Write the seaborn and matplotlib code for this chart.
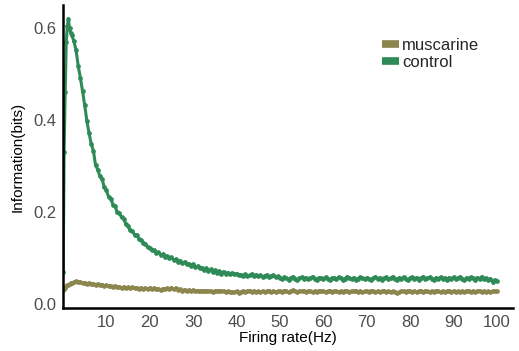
import numpy as np
import pandas as pd
import matplotlib
matplotlib.use("Agg")
import matplotlib.pyplot as plt
import seaborn as sns

# ---- data ----
x_early = [0.05, 0.25, 0.5, 0.75, 1.0, 1.25, 1.5, 1.75, 2.0]
x_rest = list(np.arange(2.5, 100.001, 0.5))
rate = x_early + x_rest

control = [0.07, 0.33, 0.46, 0.57, 0.605, 0.62, 0.60, 0.59, 0.585,
    0.572, 0.552, 0.518, 0.492, 0.463, 0.432, 0.398, 0.372, 0.348, 0.333,
    0.302, 0.292, 0.278, 0.272, 0.254, 0.247, 0.233, 0.229, 0.216, 0.212,
    0.199, 0.197, 0.188, 0.185, 0.173, 0.169, 0.160, 0.158, 0.150, 0.149,
    0.141, 0.139, 0.133, 0.131, 0.123, 0.121, 0.117, 0.117, 0.111, 0.112,
    0.107, 0.108, 0.103, 0.104, 0.099, 0.101, 0.096, 0.097, 0.092, 0.094,
    0.088, 0.091, 0.086, 0.087, 0.083, 0.086, 0.080, 0.082, 0.077, 0.079,
    0.074, 0.077, 0.072, 0.075, 0.070, 0.073, 0.068, 0.071, 0.066, 0.070,
    0.065, 0.068, 0.064, 0.067,
    0.064, 0.066, 0.062, 0.063, 0.061, 0.064, 0.060, 0.062, 0.065, 0.061,
    0.063, 0.060, 0.062, 0.059, 0.061, 0.063, 0.058, 0.060, 0.062, 0.058, 0.060,
    0.057, 0.054, 0.058, 0.056, 0.053, 0.057, 0.059, 0.055, 0.052, 0.056,
    0.058, 0.055, 0.057, 0.054, 0.056, 0.059, 0.055, 0.053, 0.057, 0.056,
    0.054, 0.058, 0.055, 0.052, 0.056, 0.057, 0.054, 0.058, 0.056, 0.053,
    0.055, 0.059, 0.056, 0.054, 0.057, 0.053, 0.055, 0.058, 0.056, 0.054,
    0.057, 0.055, 0.052, 0.056, 0.059, 0.055, 0.057, 0.053, 0.056, 0.058,
    0.054, 0.056, 0.059, 0.055, 0.053, 0.057, 0.055, 0.058, 0.054, 0.052,
    0.056, 0.058, 0.055, 0.057, 0.053, 0.056, 0.059, 0.054, 0.056, 0.058,
    0.055, 0.053, 0.057, 0.055, 0.058, 0.054, 0.056, 0.053, 0.057, 0.055,
    0.058, 0.054, 0.056, 0.059, 0.055, 0.052, 0.057, 0.054, 0.058, 0.056,
    0.053, 0.057, 0.055, 0.059, 0.054, 0.056, 0.051, 0.055, 0.048, 0.052,
    0.050]

muscarine = [0.030, 0.032, 0.035, 0.038, 0.040, 0.042, 0.043, 0.045, 0.046,
    0.047, 0.049, 0.047, 0.048, 0.045, 0.046, 0.044, 0.045, 0.043, 0.044,
    0.042, 0.043, 0.041, 0.042, 0.039, 0.041, 0.038, 0.039, 0.037, 0.039,
    0.036, 0.037, 0.035, 0.037, 0.035, 0.036, 0.034, 0.036, 0.034, 0.035,
    0.033, 0.035, 0.033, 0.034, 0.032, 0.035, 0.033, 0.034, 0.032, 0.033,
    0.031, 0.033, 0.032, 0.034, 0.033, 0.035, 0.033, 0.034, 0.031, 0.032,
    0.029, 0.031, 0.029, 0.030, 0.028, 0.030, 0.028, 0.029, 0.027, 0.029,
    0.027, 0.029, 0.027, 0.028, 0.026, 0.028, 0.027, 0.029, 0.027, 0.028,
    0.026, 0.027, 0.025, 0.026,
    0.025, 0.027, 0.024, 0.026, 0.028, 0.025, 0.027, 0.029, 0.026, 0.028,
    0.025, 0.027, 0.026, 0.028, 0.025, 0.027, 0.029, 0.026, 0.028, 0.025, 0.027,
    0.028, 0.026, 0.029, 0.027, 0.025, 0.028, 0.030, 0.027, 0.026, 0.028,
    0.027, 0.029, 0.026, 0.028, 0.027, 0.025, 0.028, 0.026, 0.029, 0.027,
    0.028, 0.026, 0.027, 0.029, 0.026, 0.028, 0.027, 0.025, 0.028, 0.026,
    0.029, 0.027, 0.026, 0.028, 0.027, 0.029, 0.026, 0.028, 0.025, 0.027,
    0.028, 0.026, 0.029, 0.027, 0.025, 0.028, 0.026, 0.027, 0.029, 0.026,
    0.028, 0.025, 0.027, 0.026, 0.023, 0.025, 0.027, 0.028, 0.026, 0.029,
    0.027, 0.025, 0.028, 0.026, 0.027, 0.029, 0.026, 0.028, 0.027, 0.025,
    0.028, 0.026, 0.029, 0.027, 0.026, 0.028, 0.025, 0.027, 0.029, 0.026,
    0.028, 0.026, 0.027, 0.025, 0.028, 0.026, 0.029, 0.027, 0.025, 0.028,
    0.026, 0.027, 0.029, 0.026, 0.028, 0.025, 0.027, 0.026, 0.028, 0.027,
    0.027]

conditions = ["muscarine", "control"]
colors = {"muscarine": "#8B864E", "control": "#2E8B57"}
x_ticks = [10, 20, 30, 40, 50, 60, 70, 80, 90, 100]
y_ticks = [0.0, 0.2, 0.4, 0.6]
y_ticklabels = ["0.0", "0.2", "0.4", "0.6"]

df = pd.concat([
    pd.DataFrame({"rate": rate, "info": muscarine, "condition": "muscarine"}),
    pd.DataFrame({"rate": rate, "info": control, "condition": "control"}),
])

sns.set_style("white")
plt.rcParams["font.family"] = ["Liberation Sans", "DejaVu Sans"]

fig = plt.figure(figsize=(5.19, 3.51), dpi=100)
ax = fig.add_axes([0.1214, 0.1225, 0.867, 0.863])

sns.lineplot(data=df, x="rate", y="info", hue="condition", hue_order=conditions,
             palette=colors, marker="o", markersize=3.4, markeredgewidth=0,
             linewidth=2.2, ax=ax, legend=True)

ax.set_xlim(0, 103.7)
ax.set_ylim(-0.009, 0.65)
ax.set_xticks(x_ticks)
ax.set_yticks(y_ticks)
ax.set_yticklabels(y_ticklabels)
ax.tick_params(direction="out", length=3, width=1, color="#333333",
               labelcolor="#4d4d4d", labelsize=12, pad=2)
for s in ["top", "right"]:
    ax.spines[s].set_visible(False)
for s in ["left", "bottom"]:
    ax.spines[s].set_color("black")
    ax.spines[s].set_linewidth(1.8)

ax.set_xlabel("Firing rate(Hz)", fontsize=11, color="black", labelpad=1)
ax.set_ylabel("Information(bits)", fontsize=11, color="black", labelpad=6)

handles, labels = ax.get_legend_handles_labels()
for h in handles:
    h.set_linewidth(5.5)
    h.set_marker("None")
    h.set_solid_capstyle("butt")
leg = ax.legend(handles, labels, loc="upper left", bbox_to_anchor=(0.695, 0.915),
                frameon=False, fontsize=12, handlelength=1.0, handletextpad=0.2,
                labelspacing=0.15, borderaxespad=0)

fig.savefig("out.png", dpi=100)
